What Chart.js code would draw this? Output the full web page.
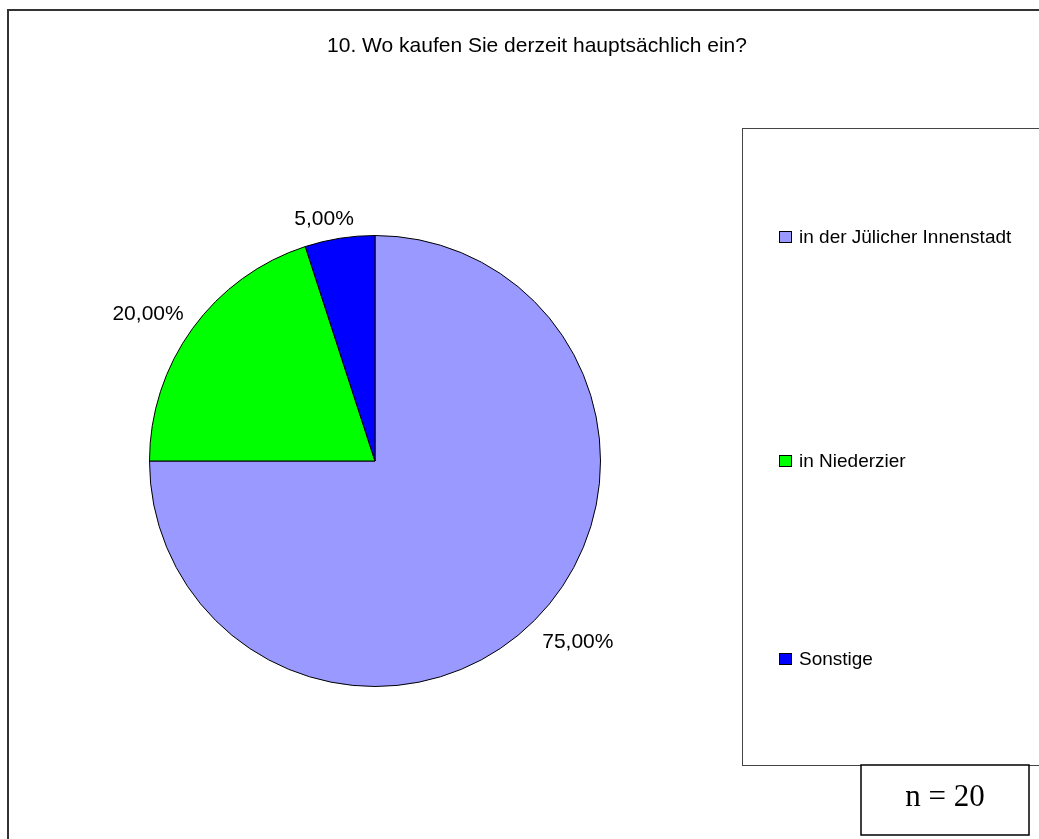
<!DOCTYPE html>
<html>
<head>
<meta charset="utf-8">
<script src="https://cdn.jsdelivr.net/npm/chart.js@4/dist/chart.umd.min.js"></script>
<style>
  html, body { margin: 0; padding: 0; background: #fff; }
  #wrap { width: 1039px; height: 839px; }
</style>
</head>
<body>
<div id="wrap"><canvas id="pie" width="1039" height="839"></canvas></div>
<script>
// Daten
const categories = ['in der Jülicher Innenstadt', 'in Niederzier', 'Sonstige'];
const shares = [75, 20, 5];
const sliceColors = ['#9999FF', '#00FF00', '#0000FF'];
const chartTitle = '10. Wo kaufen Sie derzeit hauptsächlich ein?';
const sampleNote = 'n = 20';

const fmt = v => v.toFixed(2).replace('.', ',') + '%';
const clamp = v => Math.max(-1, Math.min(1, v));

// Rahmen, Titel, Legende und Beschriftungen
const decorations = {
    id: 'decorations',
    afterDraw(chart) {
        const c = chart.ctx;
        c.save();

        // äußerer Rahmen
        c.strokeStyle = '#333';
        c.lineWidth = 2;
        c.strokeRect(8, 10, 1040, 840);

        // Titel
        c.fillStyle = '#000';
        c.font = '21px "Liberation Sans", Arial, sans-serif';
        c.textAlign = 'center';
        c.textBaseline = 'middle';
        c.fillText(chartTitle, 537, 46);

        // Prozentwerte an den Segmenten
        const arcs = chart.getDatasetMeta(0).data;
        c.font = '21px "Liberation Sans", Arial, sans-serif';
        arcs.forEach((arc, i) => {
            const mid = (arc.startAngle + arc.endAngle) / 2;
            const dx = Math.cos(mid), dy = Math.sin(mid);
            const txt = fmt(shares[i]);
            const hw = c.measureText(txt).width / 2;
            const r = arc.outerRadius + 11;
            const x = arc.x + r * dx + hw * clamp(dx * 3);
            const y = arc.y + r * dy + 11 * clamp(dy * 3) + 3;
            c.fillText(txt, x, y);
        });

        // Legendenkasten
        c.strokeStyle = '#444';
        c.lineWidth = 1;
        c.strokeRect(742.5, 128.5, 400, 637);

        const legendY = [237, 461, 659];
        c.font = '19px "Liberation Sans", Arial, sans-serif';
        c.textAlign = 'left';
        categories.forEach((name, i) => {
            c.fillStyle = sliceColors[i];
            c.fillRect(779.5, legendY[i] - 5.5, 12, 11);
            c.strokeStyle = '#000';
            c.strokeRect(779.5, legendY[i] - 5.5, 12, 11);
            c.fillStyle = '#000';
            c.fillText(name, 799, legendY[i] + 1);
        });

        // n-Kasten
        c.fillStyle = '#fff';
        c.fillRect(861, 765, 168, 70);
        c.strokeStyle = '#000';
        c.lineWidth = 1.5;
        c.strokeRect(861, 765, 168, 70);
        c.fillStyle = '#000';
        c.font = '31px "Liberation Serif", "Times New Roman", serif';
        c.textAlign = 'center';
        c.fillText(sampleNote, 945, 798);

        c.restore();
    }
};

new Chart(document.getElementById('pie'), {
    type: 'pie',
    data: {
        labels: categories,
        datasets: [{
            data: shares,
            backgroundColor: sliceColors,
            borderColor: '#000',
            borderWidth: 1
        }]
    },
    options: {
        responsive: false,
        animation: false,
        layout: {
            padding: { left: 149, right: 438, top: 235, bottom: 152 }
        },
        plugins: {
            legend: { display: false },
            tooltip: { enabled: false }
        }
    },
    plugins: [decorations]
});
</script>
</body>
</html>
